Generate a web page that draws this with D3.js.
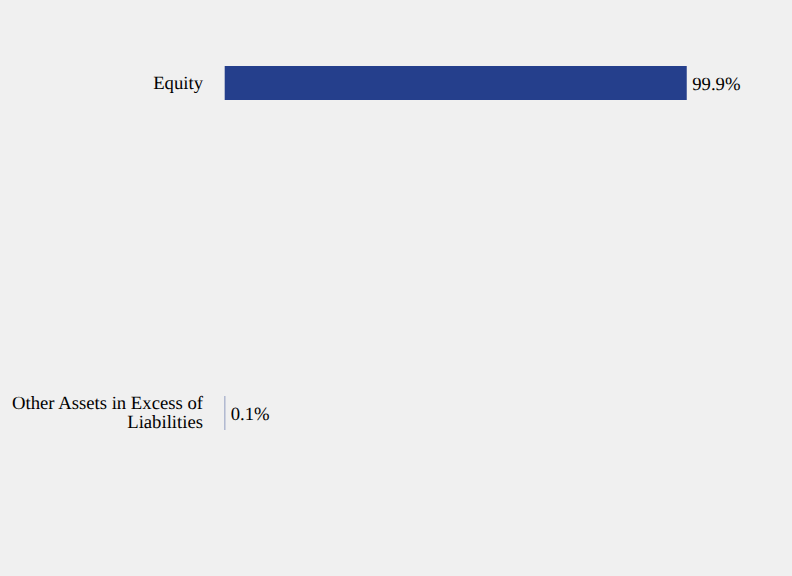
<!DOCTYPE html>
<html><head><meta charset="utf-8">
<script src="https://cdn.jsdelivr.net/npm/d3@7"></script>
<style>html,body{margin:0;padding:0;background:#f0f0f0;} text{text-rendering:geometricPrecision;}</style>
</head><body>
<script>
const categories = [["Equity"], ["Other Assets in Excess of", "Liabilities"]];
const values = [99.9, 0.1];
const valueLabels = ["99.9%", "0.1%"];

const W = 792, H = 576;
const svg = d3.select("body").append("svg").attr("width", W).attr("height", H)
  .style("background", "#f0f0f0").style("display", "block");

const x = d3.scaleLinear().domain([0, 100]).range([224.7, 687.2]);
const y = d3.scalePoint().domain(d3.range(categories.length)).range([83, 413]);
const barH = 34;
const font = "'Liberation Serif', 'Times New Roman', serif";
const fs = 18.7;

svg.selectAll("rect.bar").data(values).join("rect")
  .attr("x", x(0)).attr("y", (d, i) => y(i) - barH / 2)
  .attr("width", d => x(d) - x(0)).attr("height", barH)
  .attr("fill", "#253f8c");

svg.selectAll("text.val").data(values).join("text")
  .attr("x", d => x(d) + 5.5).attr("y", (d, i) => y(i) + 6.5)
  .attr("font-family", font).attr("font-size", fs).attr("fill", "#000")
  .text((d, i) => valueLabels[i]);

categories.forEach((lines, i) => {
  const n = lines.length;
  const lh = 18.7;
  const t = svg.append("text").attr("text-anchor", "end")
    .attr("font-family", font).attr("font-size", fs).attr("fill", "#000");
  lines.forEach((l, j) => {
    t.append("tspan").attr("x", 203)
      .attr("y", y(i) + 5.5 + (j - (n - 1) / 2) * lh).text(l);
  });
});
</script>
</body></html>
